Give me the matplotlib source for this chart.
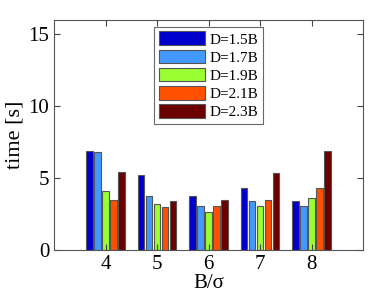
import numpy as np
import matplotlib.pyplot as plt

# B/sigma groups and timing per D value
groups = [4, 5, 6, 7, 8]
labels = ['D=1.5B', 'D=1.7B', 'D=1.9B', 'D=2.1B', 'D=2.3B']
t_15 = [6.88, 5.25, 3.79, 4.32, 3.39]
t_17 = [6.80, 3.79, 3.09, 3.41, 3.09]
t_19 = [4.11, 3.20, 2.67, 3.07, 3.62]
t_21 = [3.50, 3.02, 3.04, 3.50, 4.30]
t_23 = [5.43, 3.39, 3.48, 5.37, 6.88]
colors = ['#0000CD', '#4499FF', '#99FF33', '#FF5000', '#6B0000']

plt.rcParams['font.family'] = ['Liberation Serif', 'DejaVu Serif']

fig = plt.figure(figsize=(3.74, 2.99), dpi=100)
ax = fig.add_axes([54 / 374, 1 - 250 / 299, 309 / 374, 230 / 299])

x = np.array(groups, dtype=float)
series = [t_15, t_17, t_19, t_21, t_23]
pitch = 0.155
for i, (vals, lab, c) in enumerate(zip(series, labels, colors)):
    ax.bar(x + (i - 2) * pitch, vals, width=0.13, color=c, edgecolor='#555555',
           linewidth=0.8, label=lab)

ax.set_xlim(3, 9)
ax.set_ylim(0, 16)
ax.set_xticks(groups)
ax.set_yticks([0, 5, 10, 15])
ax.tick_params(direction='in', top=True, right=True, labelsize=15, length=4,
               color='#444444')
for s in ax.spines.values():
    s.set_color('#555555')
    s.set_linewidth(0.8)

ax.set_xlabel('B/σ', fontsize=15, labelpad=0)
ax.set_ylabel('time [s]', fontsize=16, labelpad=3)

leg = ax.legend(loc='upper center', bbox_to_anchor=(0.5, 0.97), fontsize=11,
                fancybox=False, edgecolor='#444444', handlelength=3.0,
                handleheight=1.0, labelspacing=0.2, borderpad=0.3,
                handletextpad=0.3, borderaxespad=0)
leg.get_frame().set_linewidth(0.8)

plt.savefig('out.png', dpi=100)
